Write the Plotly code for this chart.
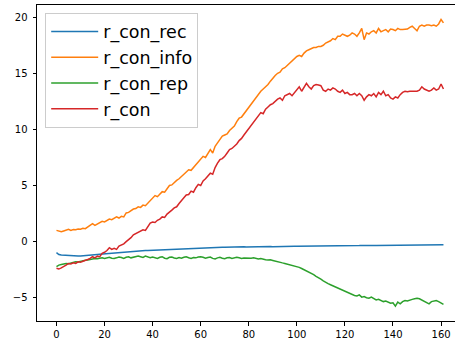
import plotly.graph_objects as go

x_vals = list(range(162))

r_con_rec = [
    -0.99, -1.15, -1.20, -1.22, -1.24, -1.25, -1.26, -1.27, -1.28, -1.28,
    -1.28, -1.27, -1.26, -1.25, -1.23, -1.20, -1.18, -1.15, -1.13, -1.11,
    -1.10, -1.08, -1.06, -1.04, -1.02, -1.00, -0.98, -0.96, -0.95, -0.93,
    -0.91, -0.90, -0.88, -0.86, -0.85, -0.83, -0.82, -0.80, -0.79, -0.78,
    -0.76, -0.75, -0.74, -0.72, -0.71, -0.70, -0.68, -0.67, -0.66, -0.65,
    -0.64, -0.62, -0.61, -0.60, -0.59, -0.58, -0.57, -0.56, -0.55, -0.54,
    -0.54, -0.53, -0.53, -0.52, -0.52, -0.51, -0.52, -0.51, -0.50, -0.50,
    -0.50, -0.49, -0.50, -0.49, -0.48, -0.49, -0.48, -0.48, -0.47, -0.48,
    -0.47, -0.46, -0.47, -0.46, -0.46, -0.45, -0.46, -0.45, -0.45, -0.44,
    -0.45, -0.44, -0.44, -0.43, -0.44, -0.43, -0.43, -0.42, -0.43, -0.42,
    -0.42, -0.42, -0.41, -0.42, -0.41, -0.41, -0.40, -0.41, -0.40, -0.40,
    -0.40, -0.39, -0.40, -0.39, -0.39, -0.38, -0.39, -0.38, -0.38, -0.37,
    -0.38, -0.37, -0.37, -0.36, -0.37, -0.36, -0.36, -0.35, -0.36, -0.35,
    -0.35, -0.34, -0.35, -0.34, -0.34, -0.33, -0.34, -0.33, -0.33, -0.32,
    -0.33, -0.32, -0.32, -0.31, -0.32, -0.31, -0.31, -0.31, -0.30, -0.31,
    -0.30, -0.30, -0.30, -0.29, -0.30, -0.29, -0.29, -0.29, -0.29, -0.28,
    -0.29, -0.28,
]

r_con_info = [
    1.00, 0.92, 0.88, 0.95, 1.02, 1.10, 1.00, 1.08, 1.05, 1.12,
    1.10, 1.18, 1.15, 1.30, 1.40, 1.60, 1.45, 1.55, 1.70, 1.80,
    1.75, 1.90, 2.00, 1.95, 2.10, 2.20, 2.10, 2.25, 2.20, 2.55,
    2.60, 2.75, 2.90, 2.95, 3.10, 3.05, 3.25, 3.20, 3.45, 3.60,
    3.95, 4.10, 4.00, 4.20, 4.45, 4.40, 4.70, 5.00, 5.05, 5.30,
    5.45, 5.60, 5.80, 6.00, 6.20, 6.40, 6.35, 6.60, 6.90, 7.10,
    7.30, 7.60, 7.50, 7.90, 8.20, 7.90, 8.50, 8.80, 9.10, 9.40,
    9.50, 9.60, 9.90, 10.10, 10.30, 10.70, 11.00, 11.10, 11.40, 11.60,
    11.90, 12.20, 12.50, 12.80, 13.20, 13.40, 13.60, 13.80, 14.00, 14.30,
    14.60, 14.80, 15.00, 15.10, 15.40, 15.50, 15.70, 15.90, 16.10, 16.30,
    16.50, 16.60, 16.50, 16.80, 17.00, 17.10, 17.20, 17.30, 17.30, 17.40,
    17.40, 17.50, 17.70, 17.80, 17.90, 18.10, 18.00, 18.30, 18.30, 18.50,
    18.40, 18.30, 18.40, 18.60, 18.50, 18.30, 18.60, 19.00, 18.00, 18.60,
    18.50, 18.70, 18.80, 18.60, 19.00, 18.70, 18.80, 18.90, 18.70, 18.95,
    18.90, 18.80, 19.00, 18.90, 18.90, 18.90, 18.95, 19.10, 19.20, 19.00,
    18.80, 19.20, 19.30, 19.20, 19.30, 19.30, 19.25, 19.30, 19.20, 19.40,
    19.80, 19.50,
]

r_con_rep = [
    -2.24, -2.10, -2.05, -2.00, -1.95, -1.98, -1.90, -1.85, -1.80, -1.82,
    -1.75, -1.70, -1.66, -1.64, -1.58, -1.55, -1.50, -1.52, -1.48, -1.45,
    -1.50, -1.46, -1.40, -1.48, -1.50, -1.45, -1.38, -1.42, -1.50, -1.40,
    -1.35, -1.45, -1.38, -1.30, -1.28, -1.35, -1.42, -1.30, -1.36, -1.44,
    -1.38, -1.42, -1.50, -1.40, -1.35, -1.48, -1.52, -1.40, -1.38, -1.46,
    -1.50, -1.42, -1.48, -1.40, -1.36, -1.44, -1.50, -1.42, -1.45, -1.38,
    -1.35, -1.40, -1.48, -1.42, -1.38, -1.50, -1.55, -1.45, -1.40, -1.48,
    -1.52, -1.45, -1.42, -1.50, -1.48, -1.40, -1.45, -1.50, -1.46, -1.48,
    -1.50, -1.48, -1.45, -1.52, -1.55, -1.50, -1.58, -1.62, -1.65, -1.62,
    -1.68, -1.75, -1.80, -1.85, -1.90, -1.95, -2.00, -2.05, -2.10, -2.15,
    -2.25, -2.30, -2.40, -2.50, -2.60, -2.70, -2.85, -2.95, -3.10, -3.20,
    -3.35, -3.50, -3.65, -3.75, -3.85, -3.95, -4.05, -4.15, -4.25, -4.35,
    -4.45, -4.55, -4.65, -4.75, -4.80, -4.85, -4.75, -4.95, -4.90, -5.00,
    -5.05, -4.95, -5.10, -5.20, -5.15, -5.25, -5.35, -5.30, -5.40, -5.50,
    -5.45, -5.75, -5.40, -5.55, -5.35, -5.25, -5.30, -5.20, -5.15, -5.10,
    -5.05, -5.10, -5.20, -5.35, -5.45, -5.55, -5.35, -5.30, -5.25, -5.35,
    -5.45, -5.60,
]

r_con = [
    -2.38, -2.45, -2.35, -2.25, -2.10, -1.95, -2.00, -1.90, -1.95, -1.80,
    -1.85, -1.75, -1.70, -1.60, -1.50, -1.35, -1.45, -1.30, -1.35, -1.05,
    -0.95, -0.80, -0.55, -0.70, -0.60, -0.70, -0.40, -0.30, -0.20, 0.00,
    0.15, 0.35, 0.60, 0.70, 0.80, 0.95, 1.05, 1.00, 1.35, 1.65,
    1.75, 1.70, 1.90, 2.00, 2.20, 2.15, 2.45, 2.60, 2.80, 3.00,
    3.10, 3.40, 3.70, 3.90, 4.15, 4.20, 4.50, 4.40, 4.80, 5.10,
    5.00, 5.40, 5.60, 5.90, 6.10, 6.00, 6.60, 7.00, 7.30, 7.40,
    7.60, 7.90, 8.20, 8.30, 8.50, 8.70, 9.00, 9.20, 9.50, 9.80,
    10.00, 10.40, 10.60, 11.00, 11.20, 11.50, 11.40, 11.80, 12.00, 12.20,
    12.30, 12.50, 12.70, 12.80, 12.60, 13.00, 13.10, 13.20, 13.00, 13.30,
    13.50, 13.80, 13.40, 13.70, 14.10, 13.80, 13.60, 13.90, 14.00, 13.95,
    13.90, 13.50, 13.40, 13.60, 13.50, 13.70, 13.60, 13.40, 13.30, 13.50,
    13.20, 13.30, 13.10, 13.10, 13.20, 13.00, 13.20, 13.00, 12.60, 12.90,
    13.10, 13.00, 13.20, 12.90, 13.30, 13.10, 13.40, 13.00, 13.10, 12.80,
    12.70, 12.90, 12.80, 13.10, 13.30, 13.40, 13.35, 13.40, 13.40, 13.40,
    13.40, 13.50, 13.80, 13.60, 13.50, 13.40, 13.50, 13.70, 13.50, 13.60,
    14.05, 13.60,
]

series_names = ["r_con_rec", "r_con_info", "r_con_rep", "r_con"]
series_values = [r_con_rec, r_con_info, r_con_rep, r_con]
colors = ["#1f77b4", "#ff7f0e", "#2ca02c", "#d62728"]

x_ticks = [0, 20, 40, 60, 80, 100, 120, 140, 160]
y_ticks = [-5, 0, 5, 10, 15, 20]

fig = go.Figure()
for name, vals, col in zip(series_names, series_values, colors):
    fig.add_trace(go.Scatter(
        x=x_vals, y=vals, mode="lines", name=name, legendgroup=name,
        line=dict(color=col, width=1.5),
    ))

font_family = "DejaVu Sans, Liberation Sans, sans-serif"

fig.update_layout(
    width=455, height=343,
    margin=dict(l=37, r=0, t=5, b=22, autoexpand=False),
    paper_bgcolor="white", plot_bgcolor="white",
    font=dict(family=font_family, size=10, color="black"),
    showlegend=True,
    legend=dict(
        x=0.0196, y=0.976, xanchor="left", yanchor="top",
        font=dict(family=font_family, size=17.5, color="black"),
        bgcolor="rgba(255,255,255,0.8)", bordercolor="#cccccc", borderwidth=1,
        tracegroupgap=0, itemwidth=47,
    ),
    xaxis=dict(
        range=[-8.1, 165.8], tickmode="array", tickvals=x_ticks,
        showgrid=False, zeroline=False, showline=True, linecolor="black",
        linewidth=1, mirror=True, ticks="outside", ticklen=3.5, tickwidth=1,
        tickcolor="black", automargin=False,
    ),
    yaxis=dict(
        range=[-7.08, 21.09], tickmode="array", tickvals=y_ticks,
        showgrid=False, zeroline=False, showline=True, linecolor="black",
        linewidth=1, mirror=False, ticks="outside", ticklen=3.5, tickwidth=1,
        tickcolor="black", automargin=False, ticklabelstandoff=3,
    ),
)

fig.write_html(
    "out.html",
    config={"displayModeBar": False},
    post_script="document.body.style.margin='0';document.body.style.overflow='hidden';",
)
